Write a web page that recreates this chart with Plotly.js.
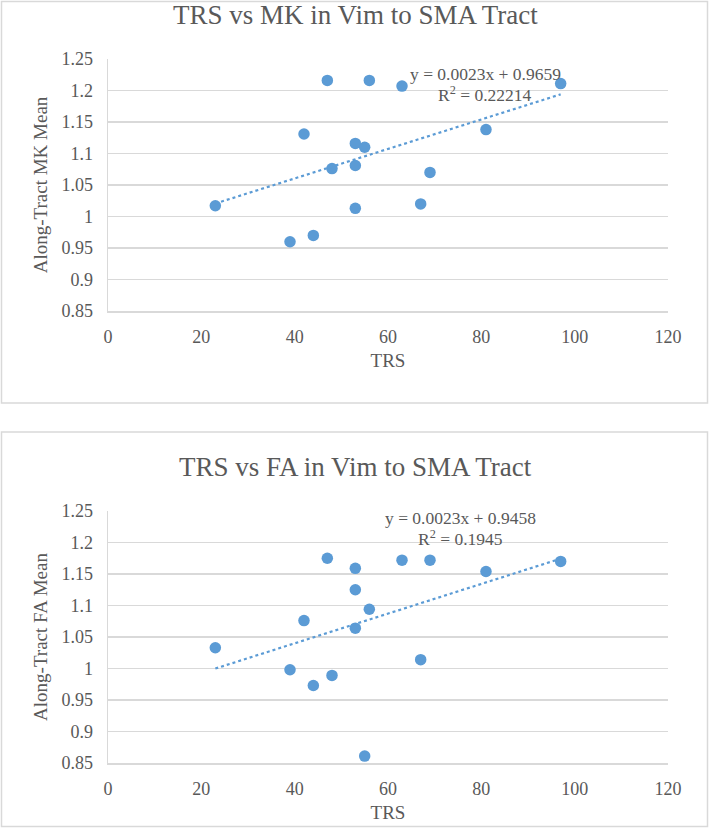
<!DOCTYPE html>
<html>
<head>
<meta charset="utf-8">
<script src="https://cdn.plot.ly/plotly-3.0.1.min.js"></script>
<style>
  html, body { margin: 0; padding: 0; background: #ffffff; }
  #chart { width: 709px; height: 828px; }
</style>
</head>
<body>
<div id="chart"></div>
<script>
// ---- data ----
const trs = [23, 47, 56, 63, 97, 42, 53, 55, 48, 53, 69, 81, 67, 53, 44, 39];
const mkMean = [1.017, 1.216, 1.216, 1.207, 1.211, 1.131, 1.116, 1.110, 1.076, 1.081, 1.070, 1.138, 1.020, 1.013, 0.970, 0.960];
const faMean = [1.033, 1.175, 1.094, 1.172, 1.170, 1.076, 1.159, 0.861, 0.989, 1.125, 1.172, 1.154, 1.014, 1.064, 0.973, 0.998];

const titles = ["TRS vs MK in Vim to SMA Tract", "TRS vs FA in Vim to SMA Tract"];
const yTitles = ["Along-Tract MK Mean", "Along-Tract FA Mean"];
const xTitle = "TRS";
const eqTexts = ["y = 0.0023x + 0.9659", "y = 0.0023x + 0.9458"];
const r2Texts = ["R<sup>2</sup> = 0.22214", "R<sup>2</sup> = 0.1945"];

// ---- least-squares trendline from the data ----
function fit(x, y) {
  const n = x.length;
  const mx = x.reduce((a, b) => a + b, 0) / n;
  const my = y.reduce((a, b) => a + b, 0) / n;
  let sxy = 0, sxx = 0;
  for (let i = 0; i < n; i++) { sxy += (x[i] - mx) * (y[i] - my); sxx += (x[i] - mx) ** 2; }
  const m = sxy / sxx;
  return { m: m, b: my - m * mx };
}
function trend(x, y) {
  const f = fit(x, y);
  const x0 = Math.min(...x), x1 = Math.max(...x);
  return { x: [x0, x1], y: [f.m * x0 + f.b, f.m * x1 + f.b] };
}

// ---- geometry helpers (pixels -> paper) ----
const W = 709, H = 828;
const px = v => v / W;
const py = v => 1 - v / H;

const FONT = "Liberation Serif";
const TXT = "#595959";
const GRID = "#d9d9d9";
const BLUE = "#5b9bd5";

const t1 = trend(trs, mkMean), t2 = trend(trs, faMean);

const data = [
  { x: trs, y: mkMean, type: "scatter", mode: "markers", xaxis: "x", yaxis: "y",
    marker: { color: BLUE, size: 11.5 }, hoverinfo: "x+y" },
  { x: t1.x, y: t1.y, type: "scatter", mode: "lines", xaxis: "x", yaxis: "y",
    line: { color: BLUE, width: 2.2, dash: "dot" }, hoverinfo: "skip" },
  { x: trs, y: faMean, type: "scatter", mode: "markers", xaxis: "x2", yaxis: "y2",
    marker: { color: BLUE, size: 11.5 }, hoverinfo: "x+y" },
  { x: t2.x, y: t2.y, type: "scatter", mode: "lines", xaxis: "x2", yaxis: "y2",
    line: { color: BLUE, width: 2.2, dash: "dot" }, hoverinfo: "skip" }
];

function xax(dom, anchor) {
  return {
    domain: dom, anchor: anchor, range: [0, 120], tick0: 0, dtick: 20,
    showgrid: false, zeroline: false, showline: true, linecolor: GRID, linewidth: 1.5,
    ticks: "", ticklabelstandoff: 9,
    tickfont: { family: FONT, size: 18, color: TXT },
    title: { text: xTitle, font: { family: FONT, size: 19, color: TXT }, standoff: 7 }
  };
}
function yax(dom, anchor, title) {
  return {
    domain: dom, anchor: anchor, range: [0.85, 1.25], tick0: 0.85, dtick: 0.05,
    showgrid: true, gridcolor: GRID, gridwidth: 1.5, zeroline: false,
    showline: true, linecolor: GRID, linewidth: 1.5,
    ticks: "", ticklabelstandoff: 10,
    tickfont: { family: FONT, size: 18, color: TXT },
    title: { text: title, font: { family: FONT, size: 19, color: TXT }, standoff: 9 }
  };
}

const xd = [px(108), px(668)];
const layout = {
  width: W, height: H,
  margin: { l: 0, r: 0, t: 0, b: 0 },
  paper_bgcolor: "#ffffff", plot_bgcolor: "#ffffff",
  font: { family: FONT, color: TXT },
  showlegend: false,
  xaxis: xax(xd, "y"),
  yaxis: yax([py(311), py(59)], "x", yTitles[0]),
  xaxis2: xax(xd, "y2"),
  yaxis2: yax([py(763), py(511)], "x2", yTitles[1]),
  shapes: [
    { type: "rect", xref: "paper", yref: "paper", x0: px(1.5), x1: px(707.5), y0: py(403), y1: py(1.5),
      line: { color: GRID, width: 1.5 }, fillcolor: "rgba(0,0,0,0)" },
    { type: "rect", xref: "paper", yref: "paper", x0: px(1.5), x1: px(707.5), y0: py(826.5), y1: py(432),
      line: { color: GRID, width: 1.5 }, fillcolor: "rgba(0,0,0,0)" }
  ],
  annotations: [
    { text: titles[0], xref: "paper", yref: "paper", x: px(355), y: py(15), xanchor: "center", yanchor: "middle",
      showarrow: false, font: { family: FONT, size: 27, color: TXT } },
    { text: titles[1], xref: "paper", yref: "paper", x: px(355), y: py(467), xanchor: "center", yanchor: "middle",
      showarrow: false, font: { family: FONT, size: 27, color: TXT } },
    { text: eqTexts[0], xref: "x", yref: "y", x: 80.8, y: 1.226, xanchor: "center", yanchor: "middle",
      showarrow: false, font: { family: FONT, size: 17.5, color: TXT } },
    { text: r2Texts[0], xref: "x", yref: "y", x: 80.8, y: 1.194, xanchor: "center", yanchor: "middle",
      showarrow: false, font: { family: FONT, size: 17.5, color: TXT } },
    { text: eqTexts[1], xref: "x2", yref: "y2", x: 75.6, y: 1.239, xanchor: "center", yanchor: "middle",
      showarrow: false, font: { family: FONT, size: 17.5, color: TXT } },
    { text: r2Texts[1], xref: "x2", yref: "y2", x: 75.6, y: 1.207, xanchor: "center", yanchor: "middle",
      showarrow: false, font: { family: FONT, size: 17.5, color: TXT } }
  ]
};

Plotly.newPlot("chart", data, layout, { displayModeBar: false, staticPlot: true });
</script>
</body>
</html>
